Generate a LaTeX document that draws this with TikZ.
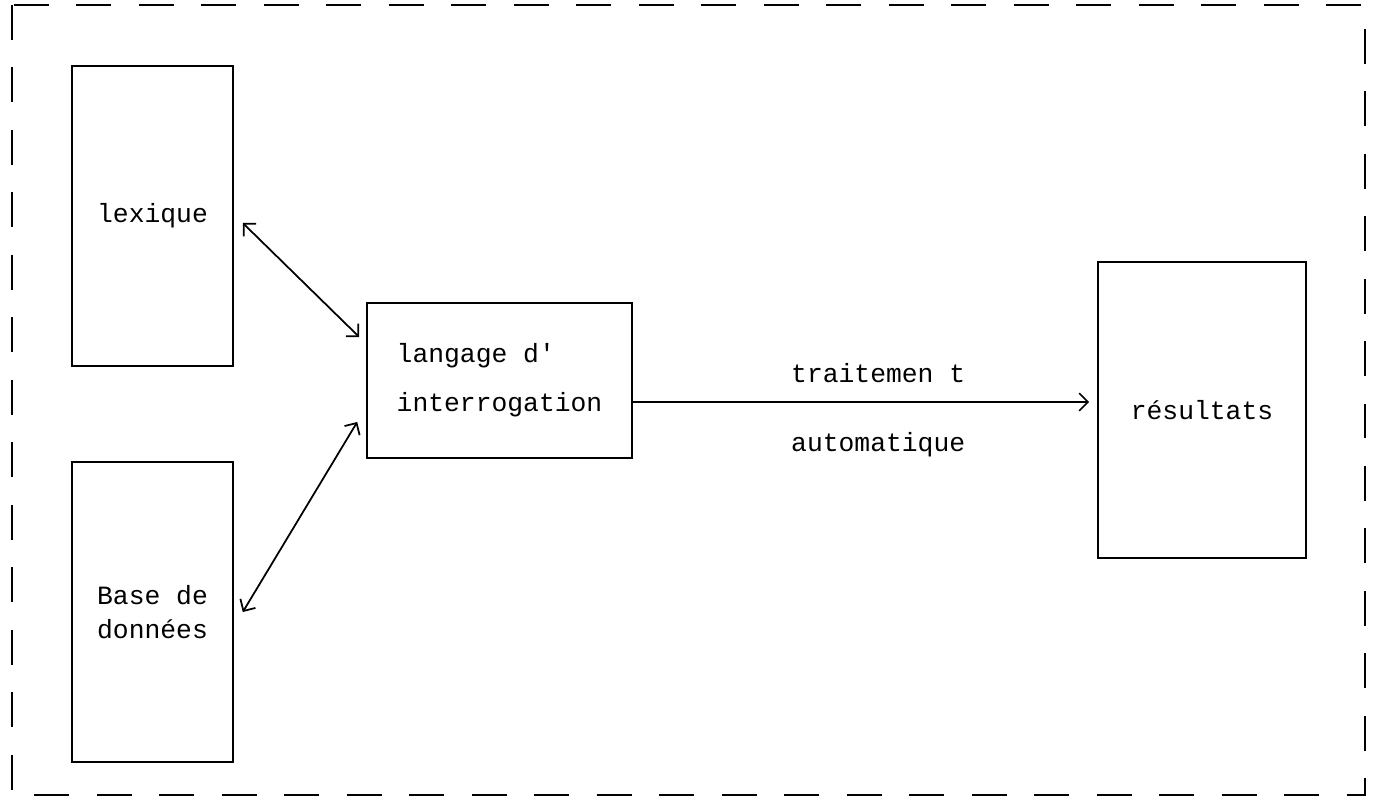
\documentclass[tikz,border=0pt]{standalone}
\usepackage{fontspec}
\setmonofont{Liberation Mono}
\usetikzlibrary{positioning,arrows.meta,calc}

\begin{document}
\begin{tikzpicture}[
      x=0.02cm, y=-0.02cm,
      box/.style = {
        draw,
        line width=0.9pt,
        font=\ttfamily\fontsize{15}{19}\selectfont
      },
      lbl/.style = {
        font=\ttfamily\fontsize{15}{19}\selectfont
      },
      arc/.style = {
        -{Straight Barb[length=5pt,width=10pt]},
        line width=1pt
      },
      dbl/.style = {
        {Straight Barb[length=5pt,width=10pt]}-{Straight Barb[length=5pt,width=10pt]},
        line width=1pt
      },
      frame/.style = {
        line width=0.8pt,
        dash pattern=on 0.7cm off 0.55cm
      }
    ]
    \useasboundingbox (0,0) rectangle (1380,804);
    \draw[frame] (12,5) rectangle (1365,795);

    \node[box, align=center, minimum width=3.22cm, minimum height=6cm] (lex) at (152.5,216) {lexique};
    \node[box, align=center, minimum width=3.22cm, minimum height=6cm] (base) at (152.5,612) {Base de\\donn\'ees};
    \node[box, align=left, minimum width=5.3cm, minimum height=3.1cm,
      font=\ttfamily\fontsize{15}{28}\selectfont] (lang) at (499.5,380.5)
      {langage d'\\interrogation};
    \node[box, align=center, minimum width=4.16cm, minimum height=5.92cm] (res) at (1202,410) {r\'esultats};

    \draw[dbl] ([xshift=0.18cm,yshift=-0.14cm]lex.east) -- ([xshift=-0.14cm,yshift=0.87cm]lang.west);
    \draw[dbl] ([xshift=0.18cm]base.east) -- ([xshift=-0.18cm,yshift=-0.83cm]lang.west);

    \coordinate (out) at ([yshift=-0.43cm]lang.east);
    \draw[arc, shorten >=0.16cm] (out) -- (out -| res.west);

    \node[lbl, anchor=west] (trt) at (785,373) {traitemen t};
    \node[lbl, anchor=west] (auto) at (785,445) {automatique};
  \end{tikzpicture}
\end{document}
